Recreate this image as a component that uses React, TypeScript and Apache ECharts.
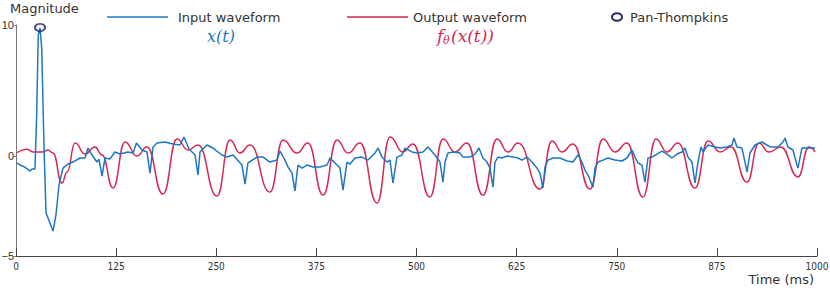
import React, { useEffect, useRef } from "react";
import * as echarts from "echarts";

// Input waveform x(t): [time (ms), magnitude]
const inputWave: number[][] = [
  [1, -0.53], [5, -0.69], [11, -0.84], [17.5, -1.15], [20, -0.99], [23.7, -0.99], [25.8, 3.13], [27.8, 9.24],
  [30, 9.77], [32.1, 8.24], [35, 0.61], [37.5, -4.35], [42.4, -5.11], [46.2, -5.73], [49.9, -4.5], [53.7, -2.21],
  [58.7, -0.92], [64.9, -0.61], [71.2, -0.46], [79.9, -0.15], [86.1, -0.15], [89.9, 0.61], [94.9, 0.08],
  [101.1, -0.46], [103.6, -0.23], [107.4, -1.53], [111.1, -0.15], [117.3, -0.23], [123.6, 0.31], [129.8, 0.15],
  [139.8, 0.31], [146.1, 0.23], [150.4, 0.99], [157.3, 0.46], [163.5, 0.31], [167.3, -1.3], [171, 0.69],
  [176, 0.99], [186, 1.07], [196, 0.92], [204.7, 0.84], [209.7, 1.45], [216, 0.53], [223.5, 0.08], [227.2, -1.45],
  [229.7, 0.31], [238.4, 0.84], [245.9, 0.61], [257.2, 0.08], [263.4, -0.08], [270.9, 0.08], [282.1, -0.69],
  [285.9, -2.14], [289.6, -0.53], [300.9, -0.08], [308.4, -0.08], [317.1, -0.46], [325.8, -0.31], [329.6, 0.38],
  [335.8, -0.31], [339.6, -0.84], [344.6, -1.3], [348.3, -2.67], [352, -0.69], [357, -0.92], [363.3, -0.69],
  [370.8, -0.84], [379.5, -0.84], [388.3, -0.69], [392, -0.15], [398.3, -0.53], [404.5, -0.92], [408.2, -2.6],
  [413.2, -0.46], [417, -0.61], [423.2, -0.15], [431.9, -0.08], [439.4, -0.31], [448.2, 0.23], [451.9, 0.61],
  [456.9, -0.08], [463.2, -0.46], [466.9, -0.31], [470.6, -2.06], [475.6, -0.08], [481.9, 0.08], [485.6, 0.61],
  [494.4, 0.31], [500.6, 0.23], [508.1, 0.31], [514.3, 0.69], [523.1, 0.08], [529.3, -0.46], [533.1, -1.99],
  [535.6, -0.46], [539.3, 0.23], [545.5, 0.31], [554.3, 0.23], [558, -0.08], [566.8, -0.08], [573, 0.15],
  [578, 0.61], [583, -0.15], [588, -0.46], [591.7, -0.92], [595.5, -2.37], [598, -0.46], [601.7, -0.08],
  [606.7, -0.15], [613, 0], [620.5, -0.08], [626.7, -0.15], [631.7, -0.31], [637.9, -0.08], [644.2, -0.46],
  [650.4, -0.92], [654.2, -1.3], [657.9, -2.44], [660.4, -0.84], [664.1, -0.31], [670.4, -0.15], [679.1, -0.15],
  [687.9, -0.38], [695.4, -0.46], [701.6, 0.08], [706.6, -0.46], [710.3, -1.07], [714.1, -1.45], [720.3, -2.37],
  [722.8, -0.92], [726.6, -0.46], [732.8, -0.31], [739, -0.15], [747.8, -0.31], [756.5, -0.38], [762.8, -0.15],
  [769, 0.46], [772.8, -0.08], [776.5, -0.53], [781.5, -0.69], [785.2, -1.99], [789, -0.15], [794, -0.08],
  [800.2, 0.15], [806.5, 0.38], [812.7, 0.15], [818.9, -0.15], [825.2, 0.15], [831.4, 0.31], [835.2, 0.61],
  [838.9, -0.08], [843.9, -0.46], [847.7, -2.06], [851.4, -0.46], [855.2, 0.69], [857.6, 0.31], [863.9, 0.84],
  [872.6, 0.69], [878.9, 0.61], [887.6, 0.69], [893.9, 0.84], [896.4, 1.37], [900.1, 0.69], [906.3, 0.61],
  [910.1, -0.46], [912.6, -1.22], [916.3, 0.23], [922.6, 0.84], [931.3, 1.07], [941.3, 0.69], [951.3, 0.69],
  [957.5, 1.07], [960, 1.37], [963.8, 0.69], [970, 0.46], [975, -0.69], [976.2, -0.92], [981.2, 0.61],
  [987.5, 0.61], [997.5, 0.61],
];

// Output waveform f_theta(x(t)): [time (ms), magnitude]
const outputWave: number[][] = [
  [0.9, 0.25], [13.4, 0.51], [21.2, 0.31], [33.7, 0.31], [40, 0.46], [46.2, 0.23], [57.4, -2.06], [63.7, -1.22],
  [73.7, 0.99], [86.1, 0.15], [98.6, 0.69], [107.4, 0.08], [121.1, -2.44], [136.1, 1.07], [151.1, 0], [163.5, 0.69],
  [183.5, -2.9], [201, 1.3], [214.7, 0.46], [227.2, 0.84], [250.9, -3.05], [267.2, 1.22], [279.6, 0.23],
  [292.1, 0.84], [317.1, -2.75], [333.3, 1.22], [350.8, 0.23], [364.5, 0.99], [383.3, -2.98], [400.7, 1.22],
  [414.5, 0.23], [429.5, 0.99], [450.7, -3.59], [466.9, 1.45], [483.1, 0.31], [495.6, 0.92], [516.8, -3.13],
  [533.1, 1.3], [548, 0.31], [563, 0.99], [583, -2.98], [600.5, 1.3], [614.2, 0.31], [626.7, 0.99], [654.2, -2.52],
  [669.1, 1.15], [681.6, 0.31], [695.4, 0.92], [716.6, -2.52], [732.8, 1.3], [747.8, 0.31], [762.8, 0.99],
  [782.7, -3.13], [799, 1.3], [812.7, 0.31], [826.4, 0.99], [847.7, -2.44], [863.9, 1.15], [878.9, 0.31],
  [892.6, 0.69], [912.6, -1.99], [927.5, 0.99], [940, 0.31], [955, 0.69], [976.2, -1.6], [990, 0.69], [997.5, 0.31],
];

// Pan-Thompkins detected peak
const panThompkins: number[][] = [[30, 9.8]];

const xTicks = [0, 125, 250, 375, 500, 625, 750, 875, 1000];
const yMin = -7.63;
const yMax = 10;
const yTickValues = [yMin, 0, 10];
const yTickLabels = ["−5", "0", "10"];

const BLUE = "#1f76c2";
const RED = "#d42a54";
const NAVY = "#28286c";
const TEXT = "#333333";
const UI_FONT = "'DejaVu Sans', sans-serif";
const MATH_FONT = "'DejaVu Serif', serif";

export default function App() {
  const ref = useRef<HTMLDivElement>(null);

  useEffect(() => {
    if (!ref.current) return;
    const chart = echarts.init(ref.current, null, { renderer: "svg" });
    chart.setOption({
      animation: false,
      backgroundColor: "#ffffff",
      grid: { left: 16, right: 13, top: 25, bottom: 32, containLabel: false, outerBoundsMode: "none" },
      xAxis: {
        type: "value",
        min: 0,
        max: 1000,
        interval: 125,
        axisLine: { show: true, onZero: false, lineStyle: { color: "#444", width: 1 } },
        axisTick: { show: true, inside: true, length: 8, lineStyle: { color: "#444" } },
        axisLabel: {
          color: TEXT,
          fontFamily: "'Liberation Sans Narrow', 'DejaVu Sans Condensed', sans-serif",
          fontSize: 10,
          margin: 5,
          customValues: xTicks,
          formatter: (v: number) => String(v),
        },
        splitLine: { show: false },
      },
      yAxis: {
        type: "value",
        min: yMin,
        max: yMax,
        axisLine: { show: true, onZero: false, lineStyle: { color: "#777", width: 1 } },
        axisTick: { show: true, length: 2, customValues: yTickValues, lineStyle: { color: "#777" } },
        axisLabel: {
          color: TEXT,
          fontFamily: "'Liberation Sans', sans-serif",
          fontSize: 11,
          margin: 2,
          customValues: yTickValues,
          formatter: (v: number) => {
            const i = yTickValues.findIndex((t) => Math.abs(t - v) < 1e-6);
            return i >= 0 ? yTickLabels[i] : "";
          },
        },
        splitLine: { show: false },
      },
      graphic: [
        { type: "text", left: 10, top: 2, style: { text: "Magnitude", fill: TEXT, font: `13px ${UI_FONT}` } },
        { type: "text", right: 16, top: 273, style: { text: "Time (ms)", fill: TEXT, font: `13px ${UI_FONT}` } },
        { type: "line", shape: { x1: 107, y1: 17, x2: 168, y2: 17 }, style: { stroke: BLUE, lineWidth: 1.6 } },
        {
          type: "text", x: 178, y: 17,
          style: { text: "Input waveform", fill: TEXT, font: `13px ${UI_FONT}`, verticalAlign: "middle" },
        },
        {
          type: "text", x: 221, y: 36,
          style: { text: "x(t)", fill: BLUE, font: `italic 16px ${MATH_FONT}`, align: "center", verticalAlign: "middle" },
        },
        { type: "line", shape: { x1: 347, y1: 17, x2: 408, y2: 17 }, style: { stroke: RED, lineWidth: 1.6 } },
        {
          type: "text", x: 413, y: 17,
          style: { text: "Output waveform", fill: TEXT, font: `13px ${UI_FONT}`, verticalAlign: "middle" },
        },
        {
          type: "group", x: 437, y: 36,
          children: [
            { type: "text", x: 0, y: 0, style: { text: "f", fill: RED, font: `italic 17px ${MATH_FONT}`, verticalAlign: "middle" } },
            { type: "text", x: 6, y: 4, style: { text: "θ", fill: RED, font: `italic 11px ${MATH_FONT}`, verticalAlign: "middle" } },
            { type: "text", x: 14, y: 0, style: { text: "(x(t))", fill: RED, font: `italic 17px ${MATH_FONT}`, verticalAlign: "middle" } },
          ],
        },
        { type: "ellipse", shape: { cx: 617, cy: 17, rx: 5, ry: 3.8 }, style: { fill: "#fff", stroke: NAVY, lineWidth: 2 } },
        {
          type: "text", x: 630, y: 17,
          style: { text: "Pan-Thompkins", fill: TEXT, font: `13px ${UI_FONT}`, verticalAlign: "middle" },
        },
      ],
      series: [
        {
          name: "Input waveform",
          type: "line",
          data: inputWave,
          showSymbol: false,
          smooth: false,
          lineStyle: { color: BLUE, width: 1.5 },
          z: 3,
        },
        {
          name: "Output waveform",
          type: "line",
          data: outputWave,
          showSymbol: false,
          smooth: 0.5,
          smoothMonotone: "x",
          lineStyle: { color: RED, width: 1.5 },
          z: 2,
        },
        {
          name: "Pan-Thompkins",
          type: "scatter",
          data: panThompkins,
          symbol: "circle",
          symbolSize: [10, 7.5],
          itemStyle: { color: "rgba(255,255,255,0)", borderColor: NAVY, borderWidth: 2 },
          z: 4,
        },
      ],
    });
    return () => chart.dispose();
  }, []);

  return <div ref={ref} style={{ position: "absolute", left: 0, top: 0, width: 830, height: 288 }} />;
}
